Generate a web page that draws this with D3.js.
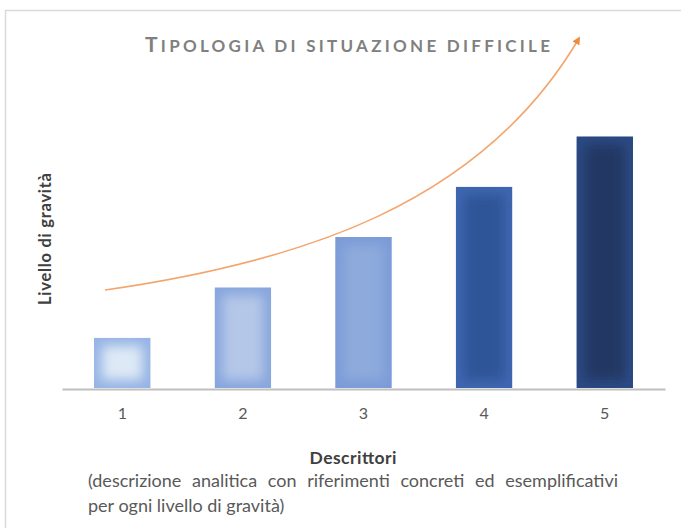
<!DOCTYPE html>
<html><head><meta charset="utf-8">
<script src="https://cdn.jsdelivr.net/npm/d3@7"></script>
<style>html,body{margin:0;padding:0;background:#fff;}svg{display:block;}</style>
</head><body>
<script>
const categories = ["1","2","3","4","5"];
const values = [1,2,3,4,5];
const edgeColors = ["#95b3e4","#87a6dd","#7b9bd8","#3f67b1","#2c4a85"];
const centerColors = ["#dde9f6","#b5c7e8","#8eaadc","#2f5597","#203864"];
const titleText = "Tipologia di situazione difficile";
const yTitle = "Livello di gravità";
const xTitle = "Descrittori";
const subLines = ["(descrizione analitica con riferimenti concreti ed esemplificativi","per ogni livello di gravità)"];

const W = 681, H = 528;
const FONT = "Lato, 'Open Sans', sans-serif";
const svg = d3.select("body").append("svg").attr("width", W).attr("height", H);
const defs = svg.append("defs");

// frame
svg.append("path").attr("d", "M5.5,528 L5.5,10.5 L681,10.5")
  .attr("fill","none").attr("stroke","#d9d9d9").attr("stroke-width",1.5);

const x = d3.scaleBand().domain(categories).range([62, 665]).paddingInner(0.53).paddingOuter(0.265);
const y = d3.scaleLinear().domain([0, 6]).range([388, 86]);

defs.append("filter").attr("id","soft").attr("x","-50%").attr("y","-50%").attr("width","200%").attr("height","200%")
  .append("feGaussianBlur").attr("stdDeviation", 6);

const bars = svg.append("g");
categories.forEach((c, i) => {
  const bx = x(c), bw = x.bandwidth(), by = y(values[i]), bh = y(0) - y(values[i]);
  defs.append("clipPath").attr("id","clip"+i).append("rect")
    .attr("x",bx).attr("y",by).attr("width",bw).attr("height",bh);
  const g = bars.append("g").attr("clip-path","url(#clip"+i+")");
  g.append("rect").attr("x",bx).attr("y",by).attr("width",bw).attr("height",bh).attr("fill",edgeColors[i]);
  const inset = Math.min(8, bh/4);
  g.append("rect").attr("x",bx+inset).attr("y",by+inset).attr("width",bw-2*inset).attr("height",Math.max(0,bh-2*inset))
    .attr("fill",centerColors[i]).attr("filter","url(#soft)");
});

// x axis
const xAxis = d3.axisBottom(x).tickSize(0).tickPadding(19);
const gx = svg.append("g").attr("transform","translate(0,389)").call(xAxis);
gx.select(".domain").attr("stroke","#bfbfbf").attr("stroke-width",2.2);
gx.selectAll("text").attr("font-family",FONT).attr("font-size",16).attr("fill","#595959");

// orange arrow
const mk = defs.append("marker").attr("id","arrow").attr("viewBox","0 0 10 10").attr("refX",5).attr("refY",5)
  .attr("markerWidth",8).attr("markerHeight",8).attr("markerUnits","userSpaceOnUse").attr("orient","auto");
mk.append("path").attr("d","M0,0 L10,5 L0,10 z").attr("fill","#f08a3c");
const p = d3.path();
p.moveTo(105, 290);
p.bezierCurveTo(300, 262, 480, 205, 578, 40);
svg.append("path").attr("d", p.toString()).attr("fill","none").attr("stroke","#f4a56c").attr("stroke-width",1.6)
  .attr("marker-end","url(#arrow)");

// title (small caps, stretched to reference width)
const t = svg.append("text").attr("x",145).attr("y",52).attr("font-family",FONT)
  .attr("font-weight","bold").attr("fill","#808080");
t.append("tspan").attr("font-size",21).text(titleText[0].toUpperCase());
t.append("tspan").attr("font-size",17).text(titleText.slice(1).toUpperCase());
const tw = t.node().getComputedTextLength();
t.attr("letter-spacing", (405 - tw) / (titleText.length - 1));

// y title
svg.append("text").attr("transform","translate(51,239) rotate(-90)").attr("text-anchor","middle")
  .attr("font-family",FONT).attr("font-weight","bold").attr("font-size",16.5)
  .attr("textLength",132).attr("lengthAdjust","spacing")
  .attr("fill","#404040").text(yTitle);

// x title
svg.append("text").attr("x",353).attr("y",464).attr("text-anchor","middle")
  .attr("font-family",FONT).attr("font-weight","bold").attr("font-size",17.5)
  .attr("textLength",87).attr("lengthAdjust","spacing")
  .attr("fill","#404040").text(xTitle);

// subtitle (first line justified)
const s1 = svg.append("text").attr("x",88).attr("y",487)
  .attr("font-family",FONT).attr("font-size",18).attr("fill","#595959").text(subLines[0]);
const w1 = s1.node().getComputedTextLength();
const nSp = (subLines[0].match(/ /g) || []).length;
s1.attr("word-spacing", (530 - w1) / nSp);
svg.append("text").attr("x",88).attr("y",512)
  .attr("font-family",FONT).attr("font-size",18).attr("fill","#595959").text(subLines[1]);
</script>
</body></html>
